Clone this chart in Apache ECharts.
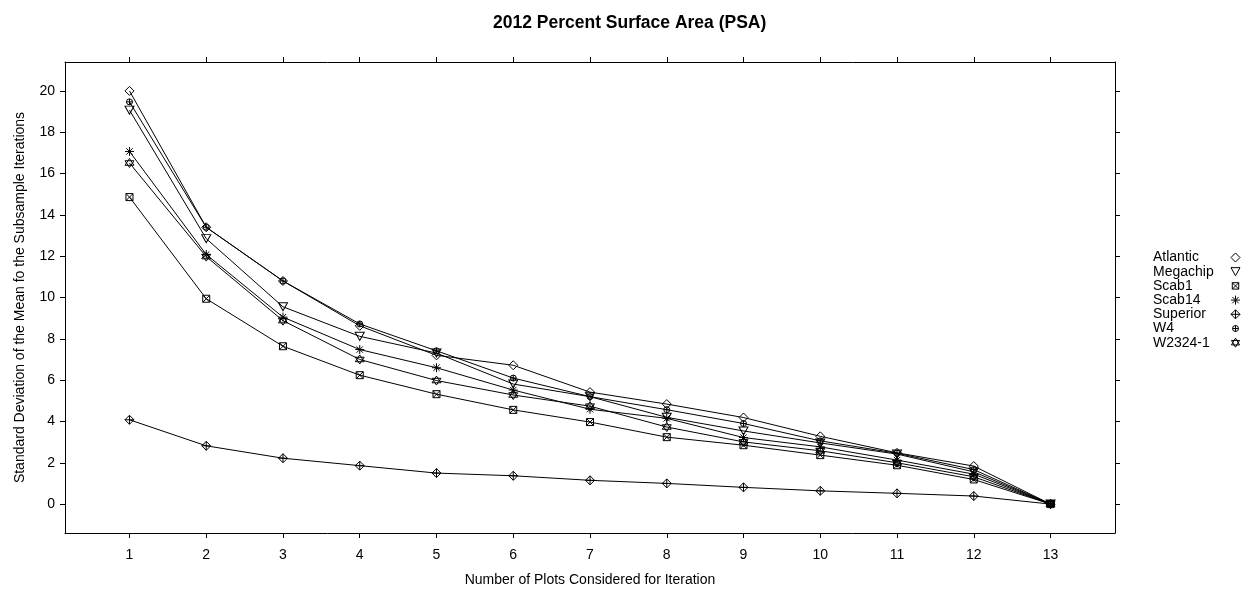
<!DOCTYPE html>
<html>
<head>
<meta charset="utf-8">
<script src="https://cdn.jsdelivr.net/npm/echarts@6/dist/echarts.min.js"></script>
<style>
html,body{margin:0;padding:0;background:#fff;}
#chart{width:1243px;height:592px;}
</style>
</head>
<body>
<div id="chart"></div>
<script>
// ---- data ----
var plotsConsidered = [1, 2, 3, 4, 5, 6, 7, 8, 9, 10, 11, 12, 13];
var yTickValues = [0, 2, 4, 6, 8, 10, 12, 14, 16, 18, 20];
var atlantic = [20.0, 13.4, 10.8, 8.63, 7.2, 6.72, 5.42, 4.84, 4.19, 3.28, 2.48, 1.84, 0];
var megachip = [19.07, 12.85, 9.55, 8.12, 7.31, 5.81, 5.2, 4.2, 3.54, 2.96, 2.42, 1.56, 0];
var scab1 = [14.86, 9.94, 7.64, 6.24, 5.32, 4.56, 3.97, 3.24, 2.85, 2.37, 1.88, 1.19, 0];
var scab14 = [17.07, 12.08, 9.05, 7.48, 6.6, 5.52, 4.59, 4.15, 3.22, 2.77, 2.13, 1.45, 0];
var superior = [4.08, 2.82, 2.22, 1.86, 1.5, 1.37, 1.15, 1.0, 0.81, 0.64, 0.52, 0.39, 0];
var w4 = [19.47, 13.4, 10.8, 8.72, 7.42, 6.1, 5.2, 4.57, 3.9, 3.06, 2.46, 1.67, 0];
var w2324 = [16.51, 11.98, 8.88, 7.0, 5.98, 5.28, 4.74, 3.73, 3.01, 2.58, 2.0, 1.32, 0];
var seriesNames = ['Atlantic', 'Megachip', 'Scab1', 'Scab14', 'Superior', 'W4', 'W2324-1'];
var seriesValues = [atlantic, megachip, scab1, scab14, superior, w4, w2324];

// ---- symbols ----
var symbols = {
  'Atlantic': 'path://M10,0 L20,10 L10,20 L0,10 Z',
  'Megachip': 'path://M0,0 L20,0 L10,18 Z',
  'Scab1': 'path://M0,0 L20,0 L20,20 L0,20 Z M0,0 L20,20 M20,0 L0,20',
  'Scab14': 'path://M10,0 L10,20 M0,10 L20,10 M3,3 L17,17 M17,3 L3,17',
  'Superior': 'path://M10,0 L20,10 L10,20 L0,10 Z M10,0 L10,20 M0,10 L20,10',
  'W4': 'path://M0,10 A10,10 0 1,0 20,10 A10,10 0 1,0 0,10 Z M10,0 L10,20 M0,10 L20,10',
  'W2324-1': 'path://M10,0 L19,15 L1,15 Z M10,20 L1,5 L19,5 Z'
};
// legend icons: same glyphs, padded so that smaller markers stay small in the 9px legend box
var legendIcons = {
  'Atlantic': symbols['Atlantic'],
  'Megachip': 'path://M0,-1 M20,19 M0,0 L20,0 L10,18 Z',
  'Scab1': 'path://M-4,-4 M24,24 M0,0 L20,0 L20,20 L0,20 Z M0,0 L20,20 M20,0 L0,20',
  'Scab14': symbols['Scab14'],
  'Superior': symbols['Superior'],
  'W4': 'path://M-5,-5 M25,25 M0,10 A10,10 0 1,0 20,10 A10,10 0 1,0 0,10 Z M10,0 L10,20 M0,10 L20,10',
  'W2324-1': symbols['W2324-1']
};
var symbolSizes = {
  'Atlantic': [9, 9], 'Megachip': [9, 8], 'Scab1': [7, 7], 'Scab14': [9, 9],
  'Superior': [9, 9], 'W4': [6, 6], 'W2324-1': [9, 9]
};

var FONT = 'Liberation Sans, Arial, sans-serif';
var chart = echarts.init(document.getElementById('chart'), null, {renderer: 'canvas'});

var series = seriesNames.map(function (name, k) {
  return {
    name: name,
    type: 'line',
    xAxisIndex: 0,
    yAxisIndex: 0,
    data: plotsConsidered.map(function (x, i) { return [x, seriesValues[k][i]]; }),
    symbol: symbols[name],
    symbolSize: symbolSizes[name],
    showAllSymbol: true,
    lineStyle: {color: '#000', width: 1},
    itemStyle: {color: 'rgba(0,0,0,0)', borderColor: '#000', borderWidth: 1},
    emphasis: {disabled: true},
    animation: false
  };
});

var axisCommon = {
  axisLine: {show: true, onZero: false, lineStyle: {color: '#000', width: 1}},
  splitLine: {show: false},
  axisTick: {show: true, inside: false, length: 5, lineStyle: {color: '#000', width: 1}}
};

var option = {
  backgroundColor: '#fff',
  animation: false,
  title: {
    text: '2012 Percent Surface Area (PSA)',
    left: 488,
    top: 9,
    textStyle: {fontFamily: FONT, fontSize: 17.5, fontWeight: 'bold', color: '#000'}
  },
  legend: {
    orient: 'vertical',
    left: 1148,
    top: 245.5,
    align: 'right',
    itemWidth: 9,
    itemHeight: 9,
    itemGap: 0.2,
    selectedMode: false,
    formatter: function (n) { return '{a|' + n + '}'; },
    textStyle: {
      fontFamily: FONT, fontSize: 14, color: '#000', lineHeight: 14,
      rich: {a: {width: 73, align: 'left', fontFamily: FONT, fontSize: 14, lineHeight: 14, color: '#000'}}
    },
    itemStyle: {color: 'rgba(0,0,0,0)', borderColor: '#000', borderWidth: 1},
    data: seriesNames.map(function (n) {
      return {name: n, icon: legendIcons[n]};
    })
  },
  grid: {left: 65, top: 62, width: 1050, height: 474, containLabel: false},
  xAxis: [
    Object.assign({}, axisCommon, {
      type: 'value', position: 'bottom', min: 0.16, max: 13.84,
      name: 'Number of Plots Considered for Iteration',
      nameLocation: 'middle', nameGap: 40,
      nameTextStyle: {fontFamily: FONT, fontSize: 14, color: '#000'},
      axisTick: Object.assign({}, axisCommon.axisTick, {customValues: plotsConsidered}),
      axisLabel: {customValues: plotsConsidered, margin: 15, fontFamily: FONT, fontSize: 14, color: '#000'}
    }),
    Object.assign({}, axisCommon, {
      type: 'value', position: 'top', min: 0.16, max: 13.84,
      axisTick: Object.assign({}, axisCommon.axisTick, {customValues: plotsConsidered}),
      axisLabel: {show: false, customValues: plotsConsidered}
    })
  ],
  yAxis: [
    Object.assign({}, axisCommon, {
      type: 'value', position: 'left', min: -1.4, max: 21.4,
      name: 'Standard Deviation of the Mean fo the Subsample Iterations',
      nameLocation: 'middle', nameGap: 38,
      nameTextStyle: {fontFamily: FONT, fontSize: 14, color: '#000'},
      axisTick: Object.assign({}, axisCommon.axisTick, {customValues: yTickValues}),
      axisLabel: {customValues: yTickValues, margin: 10, fontFamily: FONT, fontSize: 14, color: '#000'}
    }),
    Object.assign({}, axisCommon, {
      type: 'value', position: 'right', min: -1.4, max: 21.4,
      axisTick: Object.assign({}, axisCommon.axisTick, {customValues: yTickValues}),
      axisLabel: {show: false, customValues: yTickValues}
    })
  ],
  series: series
};
chart.setOption(option);
</script>
</body>
</html>
